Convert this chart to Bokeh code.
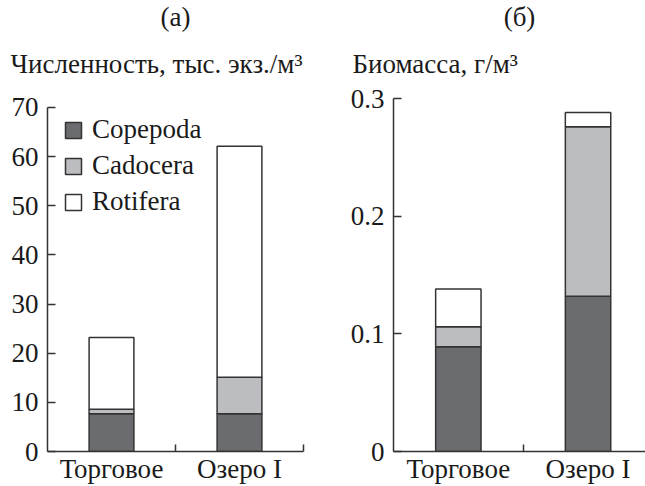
from bokeh.plotting import figure
from bokeh.models import FixedTicker, Title, Legend
from bokeh.layouts import row
from bokeh.embed import file_html
from bokeh.resources import INLINE

# ---- data ----
sites = ["Торговое", "Озеро I"]
series = ["Copepoda", "Cadocera", "Rotifera"]
# abundance, thousand ind./m3
abund_copepoda = [7.7, 7.7]
abund_cadocera = [0.9, 7.4]
abund_rotifera = [14.6, 47.0]
# biomass, g/m3
bio_copepoda = [0.089, 0.132]
bio_cadocera = [0.017, 0.144]
bio_rotifera = [0.032, 0.012]

left_ticks = [0, 10, 20, 30, 40, 50, 60, 70]
right_ticks = [0, 0.1, 0.2, 0.3]
right_tick_labels = ["0", "0.1", "0.2", "0.3"]

colors = ["#6b6c70", "#bcbdc0", "#ffffff"]
FONT = "Liberation Serif"
AX = "#333333"
TXT = "#1a1a1a"
FS = "27px"

xs = [i + 0.5 for i in range(len(sites))]

H = 486
TOP = 98
BOT = 34


def style(p, yticks, ylabels=None, ybounds=None):
    p.outline_line_color = None
    p.xgrid.visible = False
    p.ygrid.visible = False
    p.background_fill_color = None
    p.border_fill_color = "white"
    for ax in (p.xaxis[0], p.yaxis[0]):
        ax.axis_line_color = AX
        ax.axis_line_width = 1.5
        ax.major_label_text_font = FONT
        ax.major_label_text_font_size = FS
        ax.major_label_text_color = TXT
    xa = p.xaxis[0]
    xa.ticker = FixedTicker(ticks=xs, minor_ticks=[1, 2])
    xa.major_label_overrides = {x: s for x, s in zip(xs, sites)}
    xa.major_tick_line_color = None
    xa.major_tick_in = 0
    xa.major_tick_out = 0
    xa.minor_tick_in = 7
    xa.minor_tick_out = 0
    xa.minor_tick_line_color = AX
    xa.minor_tick_line_width = 1.5
    xa.major_label_standoff = 2
    xa.major_label_text_line_height = 1.0
    ya = p.yaxis[0]
    ya.ticker = FixedTicker(ticks=yticks)
    if ybounds:
        ya.bounds = ybounds
    if ylabels:
        ya.major_label_overrides = {t: l for t, l in zip(yticks, ylabels)}
    ya.major_tick_in = 8
    ya.major_tick_out = 0
    ya.major_tick_line_color = AX
    ya.major_tick_line_width = 1.5
    ya.minor_tick_line_color = None
    ya.major_label_standoff = 9


def add_titles(p, label, axis_title, off):
    p.title = Title(text=label, align="center", vertical_align="bottom",
                    text_font=FONT, text_font_size=FS,
                    text_font_style="normal", text_color=TXT, standoff=-5)
    p.add_layout(Title(text=axis_title, align="left", offset=off, vertical_align="middle",
                       text_font=FONT, text_font_size=FS,
                       text_font_style="normal", text_color=TXT, standoff=37), "above")


# ---- left panel ----
# the 70-tick sits 9 px below the shared frame top
y1_end = 70 * (H - BOT - TOP) / (H - BOT - 107)
p1 = figure(width=320, height=H, x_range=(0, 2), y_range=(0, y1_end),
            output_backend="svg", toolbar_location=None,
            min_border_left=47, min_border_right=17, min_border_top=TOP,
            min_border_bottom=BOT)
src1 = dict(x=xs, Copepoda=abund_copepoda, Cadocera=abund_cadocera, Rotifera=abund_rotifera)
r1 = p1.vbar_stack(series, x="x", width=0.35, source=src1, fill_color=colors,
                   line_color=AX, line_width=1.5)
legend = Legend(items=[(s, [r]) for s, r in zip(series, r1)], location=(16, 234))
legend.border_line_color = None
legend.background_fill_color = None
legend.margin = 0
legend.padding = 0
legend.spacing = 5
legend.glyph_width = 20
legend.glyph_height = 20
legend.label_height = 20
legend.label_standoff = 9
legend.label_text_font = FONT
legend.label_text_font_size = FS
legend.label_text_color = TXT
p1.add_layout(legend, "center")
style(p1, left_ticks, ybounds=(0, 70))
add_titles(p1, "(а)", "Численность, тыс. экз./м³", -37)

# ---- right panel ----
p2 = figure(width=325, height=H, x_range=(0, 1.943), y_range=(0, 0.3),
            output_backend="svg", toolbar_location=None,
            min_border_left=73, min_border_right=0, min_border_top=TOP,
            min_border_bottom=BOT)
src2 = dict(x=xs, Copepoda=bio_copepoda, Cadocera=bio_cadocera, Rotifera=bio_rotifera)
p2.vbar_stack(series, x="x", width=0.35, source=src2, fill_color=colors,
              line_color=AX, line_width=1.5)
style(p2, right_ticks, right_tick_labels)
add_titles(p2, "(б)", "Биомасса, г/м³", -41)

layout = row(p1, p2)
open("out.html", "w").write(file_html(layout, INLINE))
